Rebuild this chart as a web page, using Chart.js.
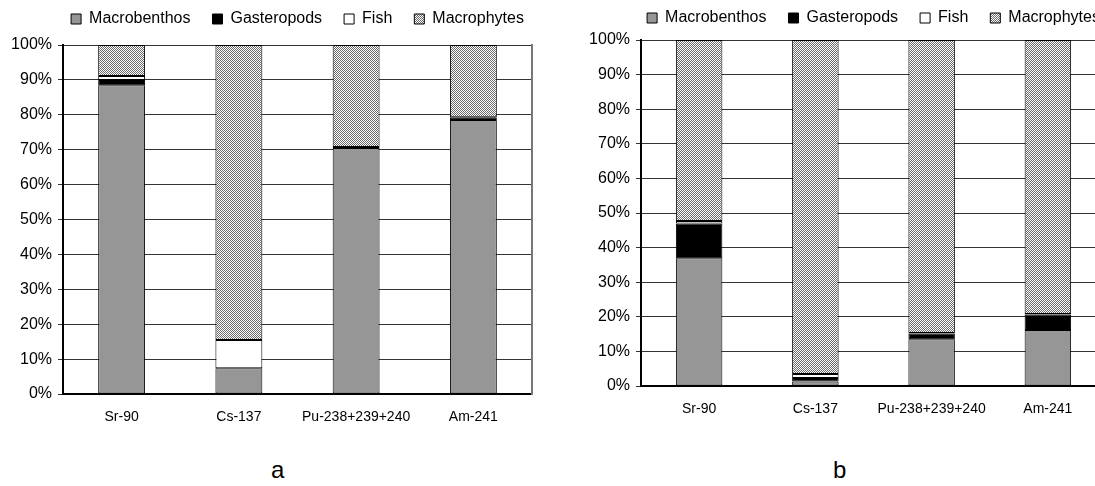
<!DOCTYPE html>
<html>
<head>
<meta charset="utf-8">
<script src="https://cdn.jsdelivr.net/npm/chart.js@4/dist/chart.umd.min.js"></script>
<style>
  html, body { margin: 0; padding: 0; background: #fff; }
  body { width: 1095px; height: 486px; overflow: hidden; position: relative; font-family: "Liberation Sans", Arial, sans-serif; }
  .panel { position: absolute; top: 0; height: 430px; }
  .letter { position: absolute; top: 458px; font-size: 24px; line-height: 24px; color: #000; }
</style>
</head>
<body>
<div class="panel" style="left:0;width:545px"><canvas id="chartA" width="545" height="430"></canvas></div>
<div class="panel" style="left:545px;width:600px"><canvas id="chartB" width="600" height="430"></canvas></div>
<div class="letter" style="left:271px">a</div>
<div class="letter" style="left:833px">b</div>

<script>
const categories = ["Sr-90", "Cs-137", "Pu-238+239+240", "Am-241"];
const seriesNames = ["Macrobenthos", "Gasteropods", "Fish", "Macrophytes"];

// panel a, percent of total
const macrobenthosA = [88.5, 7.4, 70.5, 78.5];
const gasteropodsA  = [1.5, 0.0, 0.3, 0.8];
const fishA         = [1.1, 8.1, 0.0, 0.0];
const macrophytesA  = [8.9, 84.5, 29.2, 20.7];

// panel b, percent of total
const macrobenthosB = [36.9, 1.3, 13.5, 16.2];
const gasteropodsB  = [10.1, 1.0, 1.7, 4.5];
const fishB         = [0.7, 1.2, 0.1, 0.1];
const macrophytesB  = [52.3, 96.5, 84.7, 79.2];

Chart.defaults.font.family = '"Liberation Sans", Arial, sans-serif';
Chart.defaults.color = "#000";

// 2x2 checker tile for the macrophytes fill
const tile = document.createElement("canvas");
tile.width = 2;
tile.height = 2;
const tctx = tile.getContext("2d");
tctx.fillStyle = "#ffffff";
tctx.fillRect(0, 0, 2, 2);
tctx.fillStyle = "#6a6a6a";
tctx.fillRect(0, 0, 1, 1);
tctx.fillRect(1, 1, 1, 1);

// fixed legend band height, legend centred over the plot area
function legendPlacement(height, top) {
    return {
        id: "legendPlacement",
        beforeInit(chart) {
            const fit = chart.legend.fit;
            chart.legend.fit = function () {
                fit.call(this);
                this.height = height;
            };
        },
        afterLayout(chart) {
            const lg = chart.legend;
            const cx = (chart.chartArea.left + chart.chartArea.right) / 2;
            lg.left = cx - 300;
            lg.right = cx + 300;
            lg.top = top;
        }
    };
}

function buildChart(id, series, box) {
    const ctx = document.getElementById(id).getContext("2d");
    const fills = ["#969696", "#000000", "#ffffff", ctx.createPattern(tile, "repeat")];

    return new Chart(ctx, {
        type: "bar",
        data: {
            labels: categories,
            datasets: series.map((values, i) => ({
                label: seriesNames[i],
                data: values,
                backgroundColor: fills[i],
                borderColor: "#000",
                borderWidth: 1,
                borderSkipped: false,
                barPercentage: 0.4,
                categoryPercentage: 1
            }))
        },
        options: {
            responsive: false,
            animation: false,
            layout: { padding: { left: 0, right: box.padRight, top: 0, bottom: 0 } },
            plugins: {
                legend: {
                    position: "top",
                    labels: {
                        boxWidth: 10,
                        boxHeight: 10,
                        padding: 22,
                        color: "#000",
                        font: { size: 16 }
                    }
                },
                tooltip: { enabled: false }
            },
            scales: {
                x: {
                    stacked: true,
                    grid: { display: false },
                    border: { color: "#000", width: 2 },
                    ticks: { color: "#000", font: { size: 14 }, padding: 7, maxRotation: 0, autoSkip: false },
                    afterFit: s => { s.height = box.height - box.bottom; }
                },
                y: {
                    stacked: true,
                    min: 0,
                    max: 100,
                    ticks: { stepSize: 10, callback: v => v + "%", color: "#000", font: { size: 16 }, padding: 6 },
                    grid: { color: "#333", lineWidth: 1, tickLength: 5 },
                    border: { color: "#000", width: 2 },
                    afterFit: s => { s.width = box.left; }
                },
                edge: {
                    position: "right",
                    min: 0,
                    max: 100,
                    ticks: { display: false },
                    grid: { display: false, drawOnChartArea: false },
                    border: { color: "#777", width: 2 },
                    afterFit: s => { s.width = 0; }
                }
            }
        },
        plugins: [legendPlacement(box.legendHeight, box.legendTop)]
    });
}

buildChart("chartA", [macrobenthosA, gasteropodsA, fishA, macrophytesA],
    { left: 63, padRight: 13, height: 430, bottom: 394, legendHeight: 45, legendTop: -11 });

buildChart("chartB", [macrobenthosB, gasteropodsB, fishB, macrophytesB],
    { left: 96, padRight: 39, height: 430, bottom: 386, legendHeight: 40, legendTop: -12 });
</script>
</body>
</html>
